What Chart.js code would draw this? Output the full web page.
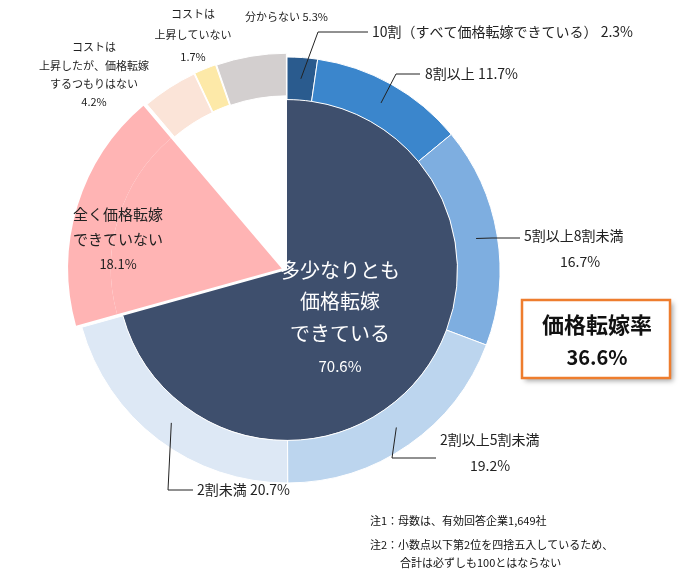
<!DOCTYPE html>
<html><head><meta charset="utf-8">
<script src="https://cdn.jsdelivr.net/npm/chart.js@4"></script>
<style>
html,body{margin:0;padding:0;background:#fff;}
#wrap{position:relative;width:691px;height:582px;}
</style></head>
<body><div id="wrap"><canvas id="c" width="691" height="582"></canvas></div>
<script>
// categories, outer ring
const categories = ['10割（すべて価格転嫁できている）','8割以上','5割以上8割未満','2割以上5割未満','2割未満',
  '全く価格転嫁できていない','コストは上昇したが、価格転嫁するつもりはない','コストは上昇していない','分からない'];
const outerValues = [2.3, 11.7, 16.7, 19.2, 20.7, 18.1, 4.2, 1.7, 5.3];
const outerColors = ['#2a5b8e','#3b86cc','#7eaee0','#bcd5ee','#dde8f5','#ffb4b4','#fbe4d8','#fde9a8','#d3cfcf'];
// inner pie
const innerValues = [70.6, 18.1, 4.2, 1.7, 5.3];
const innerColors = ['#3e4f6d','#ffb4b4','rgba(0,0,0,0)','rgba(0,0,0,0)','rgba(0,0,0,0)'];
const outerOffset = [0,0,0,0,0,22,9,9,9];
const innerOffset = [0,22,9,9,9];
const transferRate = '36.6%';

const font = '"Noto Sans CJK JP", "Noto Sans", sans-serif';

// leader lines: outer ring index -> path to label
const leaders = [
  {i:0, pts:[[318,32],[368,32]]},
  {i:1, pts:[[396,74],[420,74]]},
  {i:2, pts:[[492,238],[520,238]]},
  {i:3, pts:[[392,458],[436,458]]},
  {i:4, pts:[[168,490],[193,490]]}
];

const textPlugin = {
  id: 'texts',
  afterDatasetsDraw(chart) {
    const ctx = chart.ctx;
    const meta = chart.getDatasetMeta(0);
    ctx.save();
    ctx.strokeStyle = '#222';
    ctx.lineWidth = 1;
    leaders.forEach(l => {
      const a = meta.data[l.i].getProps(['x','y','startAngle','endAngle','innerRadius','outerRadius'], true);
      const m = (a.startAngle + a.endAngle) / 2;
      const r = (a.innerRadius + a.outerRadius) / 2;
      ctx.beginPath();
      ctx.moveTo(a.x + Math.cos(m) * r, a.y + Math.sin(m) * r);
      l.pts.forEach(p => ctx.lineTo(p[0], p[1]));
      ctx.stroke();
    });
    ctx.fillStyle = '#222';
    ctx.textBaseline = 'middle';
    ctx.font = '14px ' + font;
    ctx.textAlign = 'left';
    ctx.fillText(categories[0] + ' ' + outerValues[0] + '%', 372, 32);
    ctx.fillText(categories[1] + ' ' + outerValues[1] + '%', 425, 74);
    ctx.fillText(categories[2], 524, 236);
    ctx.fillText(categories[3], 440, 440);
    ctx.fillText(categories[4] + ' ' + outerValues[4] + '%', 197, 490);
    ctx.textAlign = 'center';
    ctx.fillText(outerValues[2] + '%', 580, 262);
    ctx.fillText(outerValues[3] + '%', 490, 466);
    ctx.font = '15px ' + font;
    ctx.fillText('全く価格転嫁', 118, 214);
    ctx.fillText('できていない', 118, 239);
    ctx.font = '13px ' + font;
    ctx.fillText(outerValues[5] + '%', 118, 264);
    ctx.font = '11px ' + font;
    ctx.fillText('コストは', 94, 47);
    ctx.fillText('上昇したが、価格転嫁', 94, 66);
    ctx.fillText('するつもりはない', 94, 84);
    ctx.fillText(outerValues[6] + '%', 94, 102);
    ctx.fillText('コストは', 193, 14);
    ctx.fillText('上昇していない', 193, 35);
    ctx.fillText(outerValues[7] + '%', 193, 57);
    ctx.textAlign = 'left';
    ctx.fillText(categories[8] + ' ' + outerValues[8] + '%', 245, 17);
    // centre label
    ctx.fillStyle = '#fff';
    ctx.textAlign = 'center';
    ctx.font = '20px ' + font;
    ctx.fillText('多少なりとも', 340, 270);
    ctx.fillText('価格転嫁', 340, 301);
    ctx.fillText('できている', 340, 333);
    ctx.font = '15px ' + font;
    ctx.fillText(innerValues[0] + '%', 340, 366);
    // rate box
    ctx.shadowColor = 'rgba(0,0,0,0.35)';
    ctx.shadowBlur = 5; ctx.shadowOffsetX = 3; ctx.shadowOffsetY = 3;
    ctx.fillStyle = '#fff';
    ctx.fillRect(522, 300, 148, 78);
    ctx.shadowColor = 'transparent';
    ctx.strokeStyle = '#ee7d2e';
    ctx.lineWidth = 2.5;
    ctx.strokeRect(522, 300, 148, 78);
    ctx.fillStyle = '#111';
    ctx.font = 'bold 22px ' + font;
    ctx.fillText('価格転嫁率', 597, 325);
    ctx.font = 'bold 20px ' + font;
    ctx.fillText(transferRate, 597, 357);
    // notes
    ctx.textAlign = 'left';
    ctx.font = '11px ' + font;
    ctx.fillText('注1：母数は、有効回答企業1,649社', 370, 521);
    ctx.fillText('注2：小数点以下第2位を四捨五入しているため、', 370, 545);
    ctx.fillText('合計は必ずしも100とはならない', 400, 563);
    ctx.restore();
  }
};

new Chart(document.getElementById('c'), {
  type: 'doughnut',
  data: {
    labels: categories,
    datasets: [
      { data: outerValues, backgroundColor: outerColors, weight: 1,
        borderColor: '#fff', borderWidth: [1,1,1,1,1,0,1,1,1], offset: outerOffset },
      { data: innerValues, backgroundColor: innerColors, weight: 4,
        borderWidth: 0, offset: innerOffset }
    ]
  },
  options: {
    responsive: false,
    animation: false,
    cutout: 0,
    radius: 213,
    layout: { padding: { left: 25, top: 8, right: 142, bottom: 50 } },
    plugins: { legend: { display: false }, tooltip: { enabled: false } }
  },
  plugins: [textPlugin]
});
</script></body></html>
